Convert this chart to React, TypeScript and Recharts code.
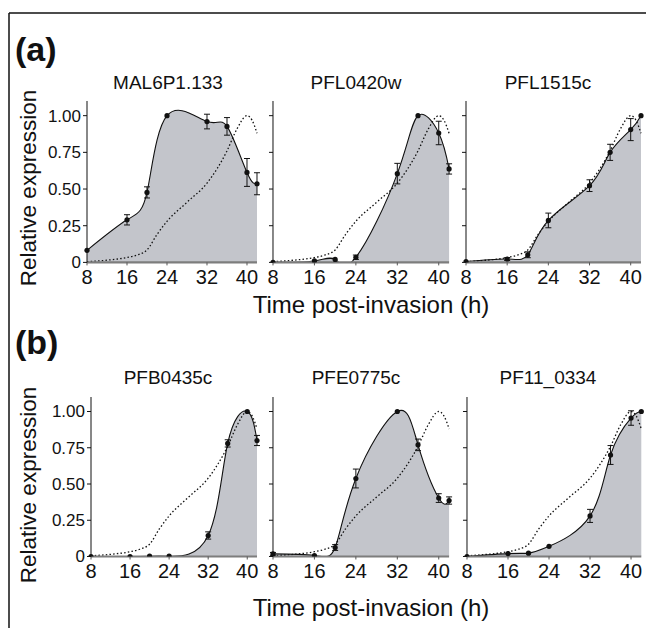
import { ComposedChart, Area, Line, XAxis, YAxis, ErrorBar } from 'recharts'

// sampling times (h post-invasion)
const hours = [8, 16, 20, 24, 32, 36, 40, 42]
const xTicks = [8, 16, 24, 32, 40]
const yTicks = [0, 0.25, 0.5, 0.75, 1]
const yTickLabels = ['0', '0.25', '0.50', '0.75', '1.00']

// dotted reference profile (same in every panel)
const refHours = [8, 12, 16, 18, 20, 22, 24, 28, 32, 36, 38, 40, 41, 42]
const refExpr = [0.005, 0.015, 0.033, 0.05, 0.085, 0.19, 0.28, 0.41, 0.54, 0.76, 0.91, 1.0, 0.97, 0.88]

const genes = ['MAL6P1.133', 'PFL0420w', 'PFL1515c', 'PFB0435c', 'PFE0775c', 'PF11_0334']

const mal6p1133 = [0.082, 0.29, 0.477, 1.0, 0.96, 0.927, 0.613, 0.536]
const mal6p1133Err = [0, 0.035, 0.038, 0, 0.05, 0.06, 0.095, 0.075]
const pfl0420w = [0.0, 0.01, 0.02, 0.035, 0.605, 1.0, 0.882, 0.637]
const pfl0420wErr = [0, 0, 0, 0.015, 0.07, 0, 0.08, 0.035]
const pfl1515c = [0.005, 0.023, 0.052, 0.286, 0.523, 0.75, 0.905, 1.0]
const pfl1515cErr = [0, 0.01, 0.02, 0.05, 0.04, 0.055, 0.075, 0]
const pfb0435c = [0.0, 0.0, 0.002, 0.002, 0.145, 0.78, 1.0, 0.8]
const pfb0435cErr = [0, 0, 0, 0, 0.025, 0.025, 0, 0.035]
const pfe0775c = [0.018, 0.007, 0.062, 0.538, 1.0, 0.77, 0.403, 0.386]
const pfe0775cErr = [0.01, 0, 0.02, 0.065, 0, 0.04, 0.03, 0.025]
const pf11_0334 = [0.0, 0.02, 0.023, 0.07, 0.28, 0.7, 0.955, 1.0]
const pf11_0334Err = [0, 0, 0, 0, 0.045, 0.065, 0.05, 0]

const series = [mal6p1133, pfl0420w, pfl1515c, pfb0435c, pfe0775c, pf11_0334]
const errors = [mal6p1133Err, pfl0420wErr, pfl1515cErr, pfb0435cErr, pfe0775cErr, pf11_0334Err]

const FONT = "'Liberation Sans', Arial, Helvetica, sans-serif"
const FILL = '#c3c5cb'

// page-coordinate layout of the six plot areas
const rowTop = [101.3, 397.2]
const rowZero = [262.7, 556.7]
const colSpans = [
  [[86.7, 256.7], [273.3, 449.4], [466, 641]],
  [[90.5, 256.5], [273.3, 449.4], [466.7, 641]],
]
const titleX = [168, 356, 548]
const titleY = [89, 384]

const refData = refHours.map((t, i) => ({ t, v: refExpr[i] }))

const YW = 60
const MT = 10
const MR = 4
const XH = 40

function Panel({ idx, row, col }: { idx: number; row: number; col: number }) {
  const [x0, x1] = colSpans[row][col]
  const top = rowTop[row]
  const zero = rowZero[row]
  const data = hours.map((t, i) => ({ t, v: series[idx][i], e: errors[idx][i] }))
  const showLabels = col === 0
  return (
    <div style={{ position: 'absolute', left: x0 - YW, top: top - MT }}>
      <ComposedChart
        width={YW + (x1 - x0) + MR}
        height={MT + (zero - top) + XH}
        margin={{ top: MT, right: MR, left: 0, bottom: 0 }}
      >
        <XAxis
          dataKey="t"
          type="number"
          domain={[8, 42]}
          ticks={xTicks}
          height={XH}
          axisLine={{ stroke: '#7d7d7d', strokeWidth: 2.2 }}
          tickLine={{ stroke: '#555' }}
          tickSize={3}
          tickMargin={4}
          tick={{ fontSize: 20, fill: '#111', fontFamily: FONT }}
          interval={0}
        />
        <YAxis
          type="number"
          domain={[0, 1.1]}
          ticks={yTicks}
          allowDataOverflow
          width={YW}
          axisLine={{ stroke: '#111' }}
          tickLine={{ stroke: '#111' }}
          tickSize={4}
          tick={(p: any) =>
            showLabels ? (
              <text x={p.x} y={p.y} dy="0.35em" textAnchor="end" fontSize={17} fill="#111" fontFamily={FONT}>
                {yTickLabels[yTicks.indexOf(p.payload.value)]}
              </text>
            ) : (
              <g />
            )
          }
        />
        <Area
          data={data}
          dataKey="v"
          type="natural"
          stroke="#111"
          strokeWidth={1.1}
          fill={FILL}
          fillOpacity={1}
          dot={false}
          activeDot={false}
          isAnimationActive={false}
        />
        <Line
          data={refData}
          dataKey="v"
          type="monotone"
          stroke="#111"
          strokeWidth={1.3}
          strokeDasharray="1.5 2.2"
          dot={false}
          activeDot={false}
          isAnimationActive={false}
        />
        <Line
          data={data}
          dataKey="v"
          stroke="none"
          dot={{ r: 2.6, fill: '#111', stroke: 'none' }}
          activeDot={false}
          isAnimationActive={false}
        >
          <ErrorBar dataKey="e" width={3} stroke="#111" strokeWidth={1} direction="y" />
        </Line>
      </ComposedChart>
    </div>
  )
}

export default function App() {
  return (
    <div style={{ position: 'relative', width: 646, height: 628, overflow: 'hidden', fontFamily: FONT }}>
      <style>{'html, body { margin: 0; padding: 0; overflow: hidden; }'}</style>
      {[0, 1].map(row =>
        [0, 1, 2].map(col => <Panel key={`${row}-${col}`} idx={row * 3 + col} row={row} col={col} />)
      )}
      <svg width={646} height={628} style={{ position: 'absolute', left: 0, top: 0, pointerEvents: 'none' }}>
        <g fontFamily={FONT} fill="#111">
          <line x1={9} y1={13} x2={646} y2={13} stroke="#111" strokeWidth={1.5} />
          <line x1={9} y1={13} x2={9} y2={628} stroke="#111" strokeWidth={1.5} />
          <text x={15} y={61} fontSize={34} fontWeight="bold">(a)</text>
          <text x={15} y={354} fontSize={34} fontWeight="bold">(b)</text>
          {[0, 1].map(row =>
            [0, 1, 2].map(col => (
              <text key={`t${row}${col}`} x={titleX[col]} y={titleY[row]} fontSize={19} textAnchor="middle">
                {genes[row * 3 + col]}
              </text>
            ))
          )}
          <text transform="translate(36,188) rotate(-90)" fontSize={22.5} textAnchor="middle">Relative expression</text>
          <text transform="translate(36,485) rotate(-90)" fontSize={22.5} textAnchor="middle">Relative expression</text>
          <text x={371} y={313} fontSize={24} textAnchor="middle">Time post-invasion (h)</text>
          <text x={371} y={616} fontSize={24} textAnchor="middle">Time post-invasion (h)</text>
        </g>
      </svg>
    </div>
  )
}
